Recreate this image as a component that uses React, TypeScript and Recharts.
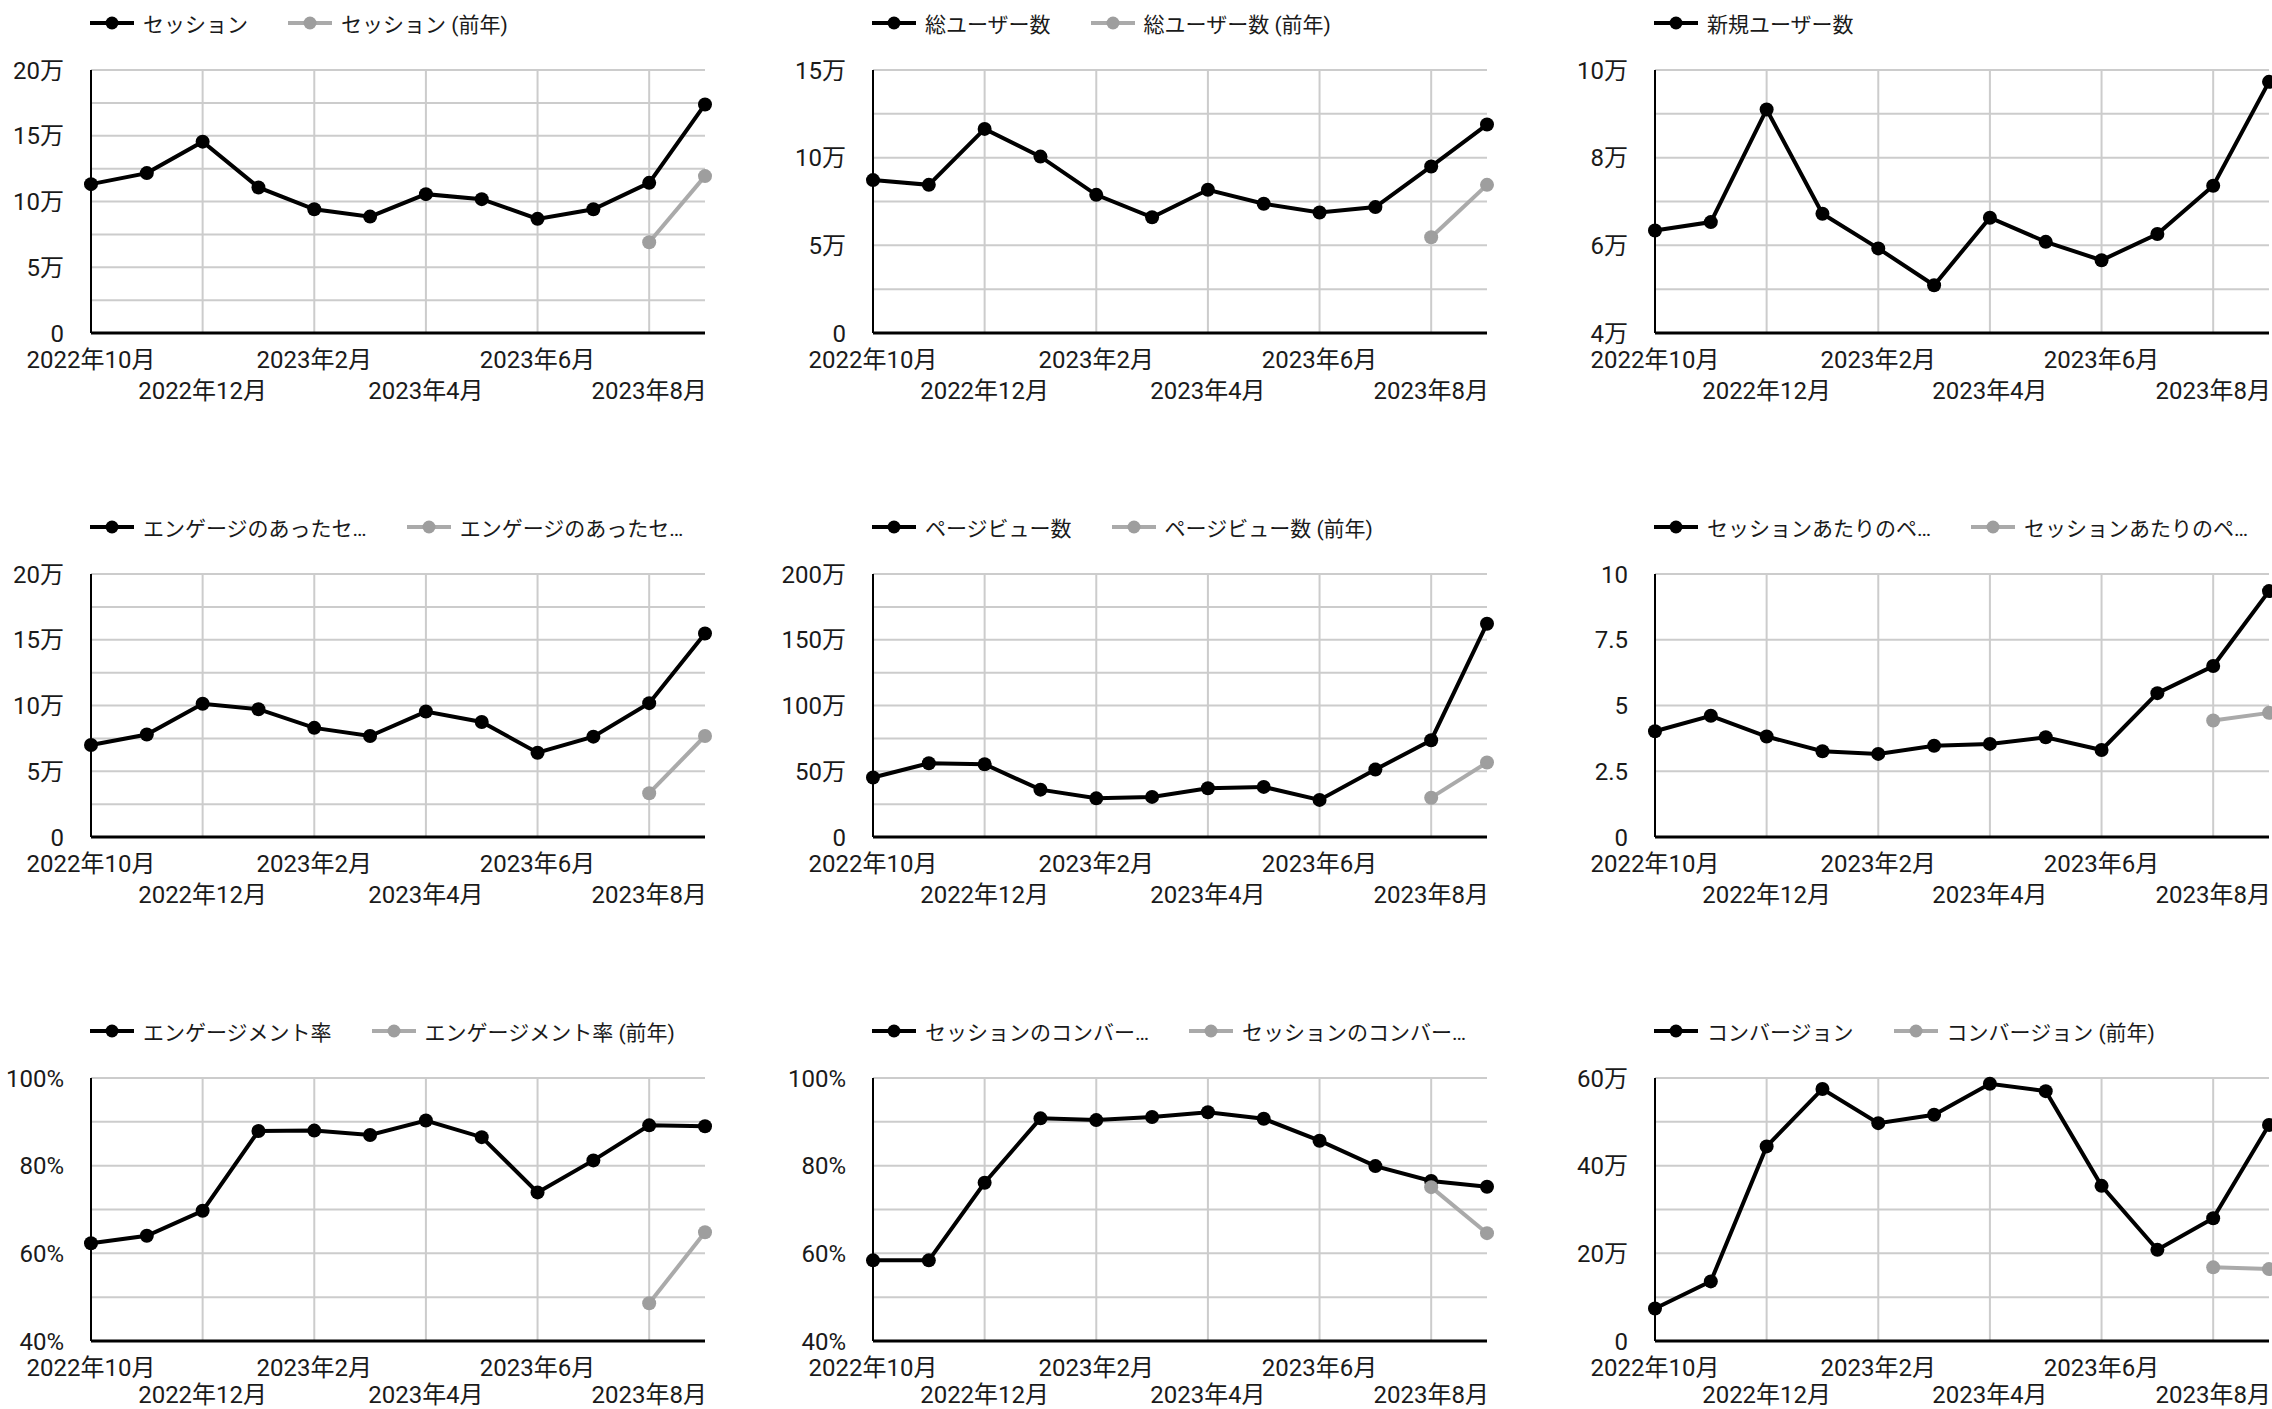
import React from "react";
import { LineChart, Line, XAxis, YAxis, CartesianGrid } from "recharts";

// 月（カテゴリ）
const months = [
  "2022年10月", "2022年11月", "2022年12月", "2023年1月", "2023年2月", "2023年3月",
  "2023年4月", "2023年5月", "2023年6月", "2023年7月", "2023年8月", "2023年9月",
];
const monthTicks = ["2022年10月", "2022年12月", "2023年2月", "2023年4月", "2023年6月", "2023年8月"];

const N = null;

// 系列データ
const sessions = [113200, 121600, 145500, 110700, 94100, 88500, 105600, 101800, 86800, 94100, 114200, 173800];
const sessionsPrev = [N, N, N, N, N, N, N, N, N, N, 69000, 119300];

const totalUsers = [87200, 84500, 116400, 100600, 78800, 66000, 81700, 73700, 68700, 71800, 95000, 118900];
const totalUsersPrev = [N, N, N, N, N, N, N, N, N, N, 54600, 84500];

const newUsers = [63400, 65300, 91000, 67200, 59300, 50900, 66300, 60800, 56600, 62600, 73600, 97300];

const engaged = [70000, 77900, 101300, 97200, 83000, 76800, 95400, 87500, 64100, 76300, 101800, 154700];
const engagedPrev = [N, N, N, N, N, N, N, N, N, N, 33300, 76800];

const pageViews = [452000, 561000, 553000, 360000, 294000, 305000, 371000, 381000, 282000, 513000, 736000, 1622000];
const pageViewsPrev = [N, N, N, N, N, N, N, N, N, N, 299000, 566000];

const pvPerSession = [4.02, 4.61, 3.82, 3.26, 3.16, 3.47, 3.54, 3.79, 3.31, 5.47, 6.5, 9.35];
const pvPerSessionPrev = [N, N, N, N, N, N, N, N, N, N, 4.43, 4.72];

const engagementRate = [62.3, 64.0, 69.7, 87.9, 88.0, 87.0, 90.3, 86.5, 73.9, 81.2, 89.2, 89.0];
const engagementRatePrev = [N, N, N, N, N, N, N, N, N, N, 48.6, 64.8];

const convRate = [58.4, 58.4, 76.1, 90.8, 90.4, 91.1, 92.2, 90.7, 85.7, 79.9, 76.5, 75.2];
const convRatePrev = [N, N, N, N, N, N, N, N, N, N, 75.1, 64.6];

const conversions = [74000, 136000, 444000, 575000, 497000, 516000, 587000, 570000, 354000, 208000, 280000, 493000];
const conversionsPrev = [N, N, N, N, N, N, N, N, N, N, 168000, 164000];

// Y軸の目盛と表示ラベル
const sessionTicks = [0, 25000, 50000, 75000, 100000, 125000, 150000, 175000, 200000];
const sessionLabels = ["0", "", "5万", "", "10万", "", "15万", "", "20万"];
const userTicks = [0, 25000, 50000, 75000, 100000, 125000, 150000];
const userLabels = ["0", "", "5万", "", "10万", "", "15万"];
const newUserTicks = [40000, 50000, 60000, 70000, 80000, 90000, 100000];
const newUserLabels = ["4万", "", "6万", "", "8万", "", "10万"];
const pvTicks = [0, 250000, 500000, 750000, 1000000, 1250000, 1500000, 1750000, 2000000];
const pvLabels = ["0", "", "50万", "", "100万", "", "150万", "", "200万"];
const ppsTicks = [0, 2.5, 5, 7.5, 10];
const ppsLabels = ["0", "2.5", "5", "7.5", "10"];
const rateTicks = [40, 50, 60, 70, 80, 90, 100];
const rateLabels = ["40%", "", "60%", "", "80%", "", "100%"];
const convTicks = [0, 100000, 200000, 300000, 400000, 500000, 600000];
const convLabels = ["0", "", "20万", "", "40万", "", "60万"];

const panels = [
  { name: "セッション", prevName: "セッション (前年)", cur: sessions, prev: sessionsPrev, ticks: sessionTicks, labels: sessionLabels },
  { name: "総ユーザー数", prevName: "総ユーザー数 (前年)", cur: totalUsers, prev: totalUsersPrev, ticks: userTicks, labels: userLabels },
  { name: "新規ユーザー数", prevName: null, cur: newUsers, prev: null, ticks: newUserTicks, labels: newUserLabels },
  { name: "エンゲージのあったセ…", prevName: "エンゲージのあったセ…", cur: engaged, prev: engagedPrev, ticks: sessionTicks, labels: sessionLabels },
  { name: "ページビュー数", prevName: "ページビュー数 (前年)", cur: pageViews, prev: pageViewsPrev, ticks: pvTicks, labels: pvLabels },
  { name: "セッションあたりのペ…", prevName: "セッションあたりのペ…", cur: pvPerSession, prev: pvPerSessionPrev, ticks: ppsTicks, labels: ppsLabels },
  { name: "エンゲージメント率", prevName: "エンゲージメント率 (前年)", cur: engagementRate, prev: engagementRatePrev, ticks: rateTicks, labels: rateLabels },
  { name: "セッションのコンバー…", prevName: "セッションのコンバー…", cur: convRate, prev: convRatePrev, ticks: rateTicks, labels: rateLabels },
  { name: "コンバージョン", prevName: "コンバージョン (前年)", cur: conversions, prev: conversionsPrev, ticks: convTicks, labels: convLabels },
];

const CHART_W = 715;
const X_AXIS_H = 80;
const CHART_H = 70 + 263 + X_AXIS_H;
const COL_STEP = 782;
const ROW_STEP = 504;
const TEXT = "#1a1a1a";
const PREV_LINE = "#aaaaaa";
const PREV_DOT = "#9e9e9e";
const TICK_FONT = 24;

// 月ラベルは2段に互い違いで表示（最下段のパネルは画面下端に収まるよう少しだけ詰める）
const StaggerTick = (props: any) => {
  const { x, y, payload, index, lowDy } = props;
  const dy = index % 2 === 0 ? 35 : lowDy;
  return (
    <text x={x} y={y + dy} textAnchor="middle" fill={TEXT} fontSize={TICK_FONT}>
      {payload.value}
    </text>
  );
};

const LegendItem = ({ color, dotColor, label }: { color: string; dotColor: string; label: string }) => (
  <div style={{ display: "flex", alignItems: "center", whiteSpace: "nowrap" }}>
    <svg width={44} height={16} style={{ display: "block" }}>
      <line x1={0} y1={8} x2={44} y2={8} stroke={color} strokeWidth={4} />
      <circle cx={22} cy={8} r={6.5} fill={dotColor} />
    </svg>
    <span style={{ marginLeft: 9, fontSize: 21, color: TEXT }}>{label}</span>
  </div>
);

const Panel = ({ p, left, top, lowDy }: { p: any; left: number; top: number; lowDy: number }) => {
  const data = months.map((m, i) => ({ month: m, cur: p.cur[i], prev: p.prev ? p.prev[i] : null }));
  const lo = p.ticks[0];
  const hi = p.ticks[p.ticks.length - 1];
  return (
    <div style={{ position: "absolute", left, top, width: CHART_W, height: CHART_H }}>
      <div style={{ position: "absolute", left: 90, top: 8, height: 30, display: "flex", alignItems: "center", gap: 40 }}>
        <LegendItem color="#000" dotColor="#000" label={p.name} />
        {p.prevName && <LegendItem color={PREV_LINE} dotColor={PREV_DOT} label={p.prevName} />}
      </div>
      <LineChart width={CHART_W} height={CHART_H} data={data} margin={{ top: 70, right: 10, bottom: 0, left: 0 }}>
        <CartesianGrid stroke="#cccccc" strokeWidth={2} syncWithTicks />
        <XAxis
          dataKey="month"
          ticks={monthTicks}
          interval={0}
          height={X_AXIS_H}
          tickLine={false}
          tickSize={0}
          tickMargin={0}
          axisLine={{ stroke: "#000", strokeWidth: 3 }}
          tick={<StaggerTick lowDy={lowDy} />}
        />
        <YAxis
          type="number"
          width={91}
          domain={[lo, hi]}
          ticks={p.ticks}
          interval={0}
          tickLine={false}
          tickSize={0}
          tickMargin={27}
          axisLine={{ stroke: "#000", strokeWidth: 2 }}
          tick={{ fill: TEXT, fontSize: TICK_FONT }}
          tickFormatter={(v: number) => p.labels[p.ticks.indexOf(v)] ?? ""}
        />
        <Line
          dataKey="cur"
          stroke="#000"
          strokeWidth={4}
          dot={{ r: 7, fill: "#000", stroke: "none" }}
          activeDot={false}
          isAnimationActive={false}
        />
        {p.prev && (
          <Line
            dataKey="prev"
            stroke={PREV_LINE}
            strokeWidth={4}
            dot={{ r: 7, fill: PREV_DOT, stroke: "none" }}
            activeDot={false}
            isAnimationActive={false}
          />
        )}
      </LineChart>
    </div>
  );
};

export default function App() {
  return (
    <div
      style={{
        position: "absolute",
        left: 0,
        top: 0,
        width: 2272,
        height: 1409,
        overflow: "hidden",
        background: "#fff",
        fontFamily: "Roboto, 'Noto Sans CJK JP', sans-serif",
      }}
    >
      {panels.map((p, i) => {
        const row = Math.floor(i / 3);
        return (
          <Panel
            key={i}
            p={p}
            left={(i % 3) * COL_STEP}
            top={row * ROW_STEP}
            lowDy={row === 2 ? 62 : 66}
          />
        );
      })}
    </div>
  );
}
